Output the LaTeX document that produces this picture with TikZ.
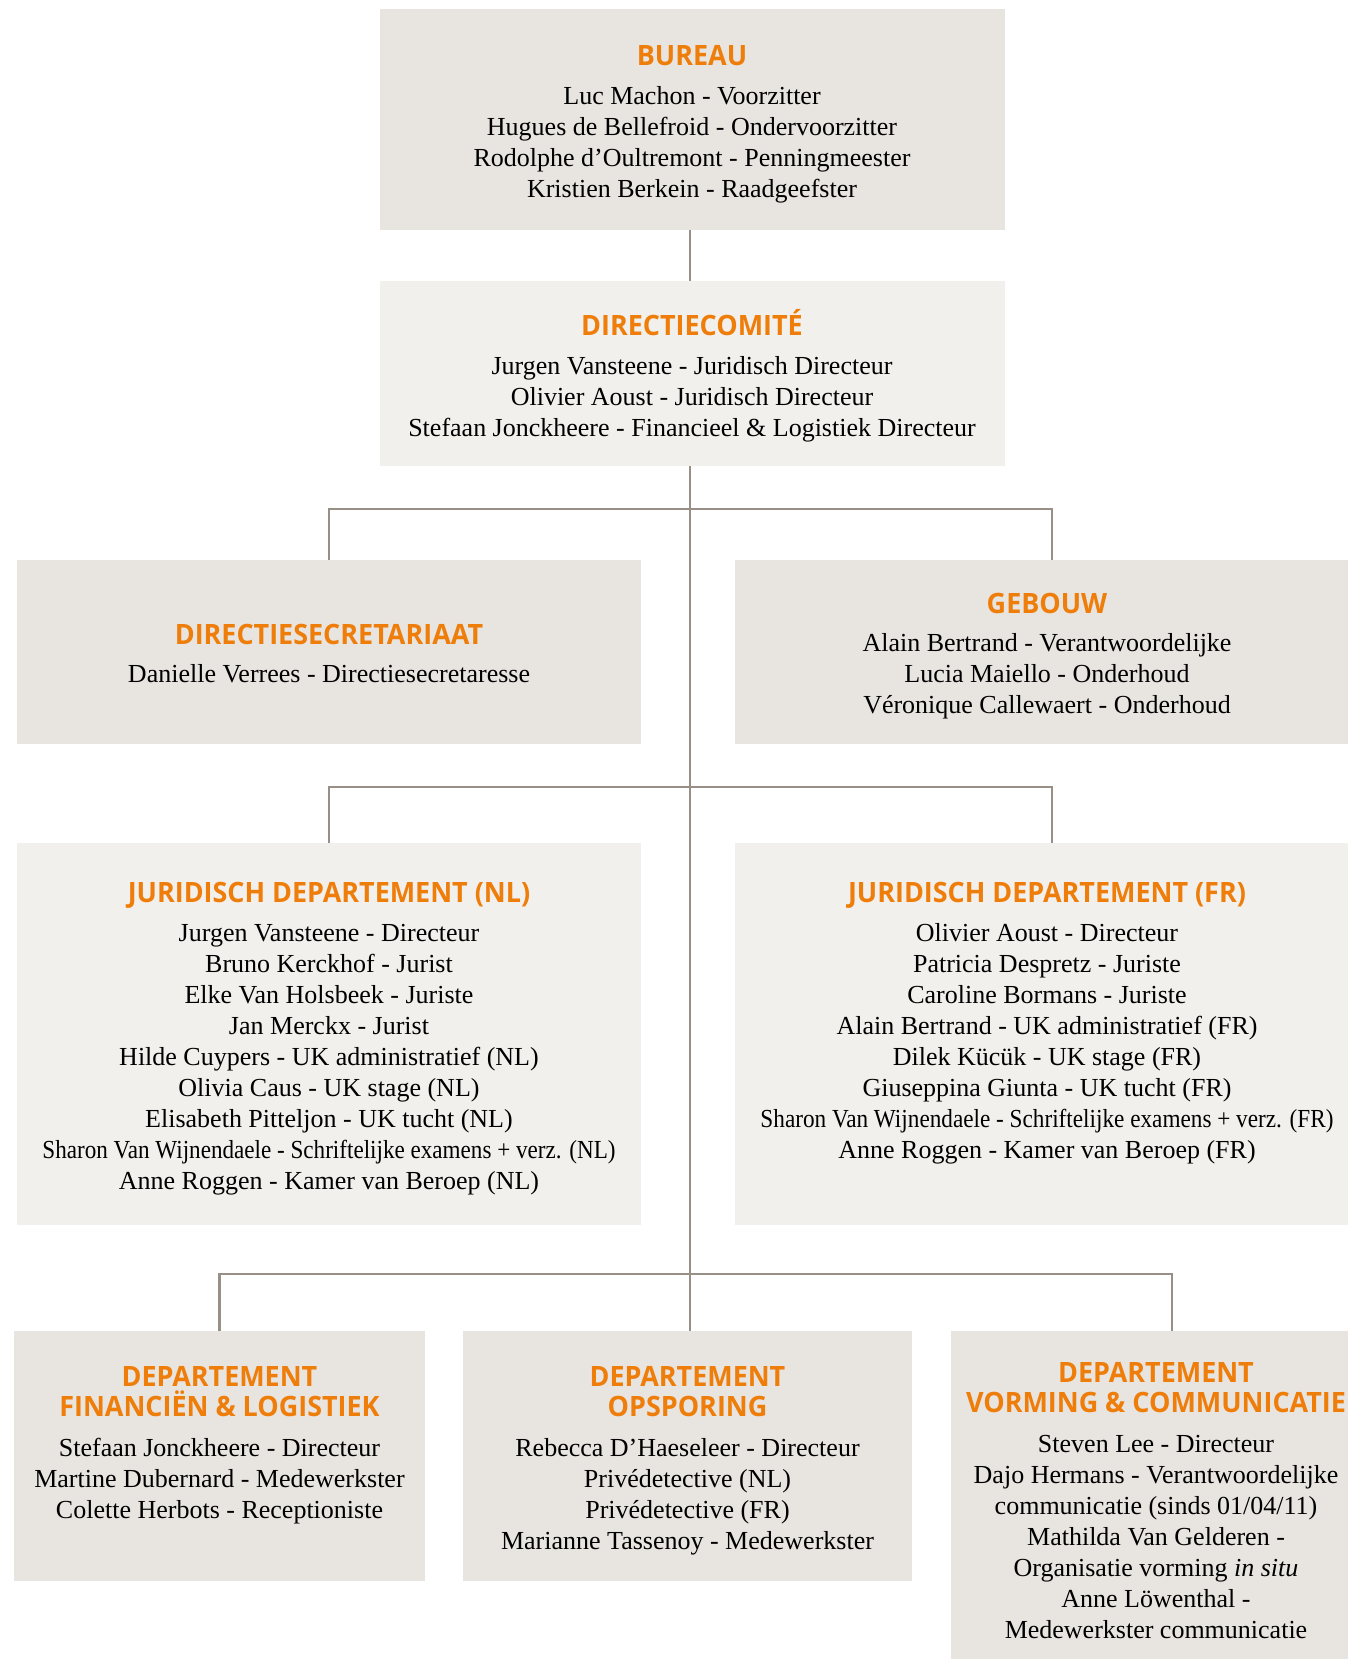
\documentclass[tikz,border=0pt]{standalone}
\usepackage{fontspec}
\usepackage{graphicx}
\setmainfont{Liberation Serif}
\newfontfamily\headf{Open Sans}[FakeStretch=0.962]
\definecolor{orangeh}{RGB}{238,125,10}
\definecolor{boxdark}{RGB}{232,228,224}
\definecolor{boxlight}{RGB}{242,240,237}
\definecolor{linec}{RGB}{152,143,135}
\newcommand\bfnt{\fontsize{26}{31}\selectfont}
\newcommand\hfnt{\headf\bfseries\fontsize{28}{30.7}\selectfont}
\newcommand\cond[1]{\strut\resizebox{573pt}{\height}{#1}}
\newcommand\hl[1]{\strut\smash{#1}}
\tikzset{
  boxd/.style={fill=boxdark, draw=none, inner sep=0pt, outer sep=0pt},
  boxl/.style={fill=boxlight, draw=none, inner sep=0pt, outer sep=0pt},
  head/.style={font=\hfnt, text=orangeh, align=center, inner sep=0pt, anchor=north},
  body/.style={font=\bfnt, text=black, align=center, inner sep=0pt, anchor=north},
  conn/.style={draw=linec, line width=2.5pt}
}
\begin{document}
\begin{tikzpicture}[x=1pt, y=-1pt]
\useasboundingbox (0,0) rectangle (1348,1659);
\clip (0,0) rectangle (1348,1659);
\fill[white] (0,0) rectangle (1348,1659);
% boxes
\node[boxd, minimum width=625pt, minimum height=221pt] (bureau) at (692.5,119.5) {};
\node[boxl, minimum width=625pt, minimum height=185pt] (dircom) at (692.5,373.5) {};
\node[boxd, minimum width=624pt, minimum height=184pt] (secr) at (329,652) {};
\node[boxd, minimum width=624pt, minimum height=184pt] (gebouw) at (1047,652) {};
\node[boxl, minimum width=624pt, minimum height=382pt] (jurnl) at (329,1034) {};
\node[boxl, minimum width=624pt, minimum height=382pt] (jurfr) at (1047,1034) {};
\node[boxd, minimum width=411pt, minimum height=250pt] (fin) at (219.5,1456) {};
\node[boxd, minimum width=449pt, minimum height=250pt] (ops) at (687.5,1456) {};
\node[boxd, minimum width=410pt, minimum height=349pt] (vor) at (1156,1505.5) {};
% connectors
\coordinate (j1) at (690,509);
\coordinate (j2) at (690,787);
\coordinate (j3) at (690,1274);
\draw[conn] ([xshift=-2.5pt]bureau.south) -- ([xshift=-2.5pt]dircom.north);
\draw[conn] ([xshift=-2.5pt]dircom.south) -- ([xshift=-2.5pt]dircom.south |- ops.north);
\draw[conn] (secr.north) |- (j1);
\draw[conn] ([xshift=5pt]gebouw.north) |- (j1);
\draw[conn] (jurnl.north) |- (j2);
\draw[conn] ([xshift=5pt]jurfr.north) |- (j2);
\draw[conn] (fin.north) |- (j3);
\draw[conn] ([xshift=16pt]vor.north) |- (j3);
% texts
\node[head] (bureau-h) at (692,44) {\hl{BUREAU}};
\node[body] (bureau-b) at (692,82.3) {\strut Luc Machon - Voorzitter\\\strut Hugues de Bellefroid - Ondervoorzitter\\\strut Rodolphe d’Oultremont - Penningmeester\\\strut Kristien Berkein - Raadgeefster};
\node[head] (dircom-h) at (692,313.5) {\hl{DIRECTIECOMITÉ}};
\node[body] (dircom-b) at (692,352.3) {\strut Jurgen Vansteene - Juridisch Directeur\\\strut Olivier Aoust - Juridisch Directeur\\\strut Stefaan Jonckheere - Financieel \& Logistiek Directeur};
\node[head] (secr-h) at (329,622.5) {\hl{DIRECTIESECRETARIAAT}};
\node[body] (secr-b) at (329,660.8) {\strut Danielle Verrees - Directiesecretaresse};
\node[head] (gebouw-h) at (1047,591.5) {\hl{GEBOUW}};
\node[body] (gebouw-b) at (1047,629.8) {\strut Alain Bertrand - Verantwoordelijke\\\strut Lucia Maiello - Onderhoud\\\strut Véronique Callewaert - Onderhoud};
\node[head] (jurnl-h) at (329,880.5) {\hl{JURIDISCH DEPARTEMENT (NL)}};
\node[body] (jurnl-b) at (329,919.3) {\strut Jurgen Vansteene - Directeur\\\strut Bruno Kerckhof - Jurist\\\strut Elke Van Holsbeek - Juriste\\\strut Jan Merckx - Jurist\\\strut Hilde Cuypers - UK administratief (NL)\\\strut Olivia Caus - UK stage (NL)\\\strut Elisabeth Pitteljon - UK tucht (NL)\\\cond{Sharon Van Wijnendaele - Schriftelijke examens + verz. (NL)}\\\strut Anne Roggen - Kamer van Beroep (NL)};
\node[head] (jurfr-h) at (1047,880.5) {\hl{JURIDISCH DEPARTEMENT (FR)}};
\node[body] (jurfr-b) at (1047,919.3) {\strut Olivier Aoust - Directeur\\\strut Patricia Despretz - Juriste\\\strut Caroline Bormans - Juriste\\\strut Alain Bertrand - UK administratief (FR)\\\strut Dilek Kücük - UK stage (FR)\\\strut Giuseppina Giunta - UK tucht (FR)\\\cond{Sharon Van Wijnendaele - Schriftelijke examens + verz. (FR)}\\\strut Anne Roggen - Kamer van Beroep (FR)};
\node[head] (fin-h) at (219.5,1364.5) {\hl{DEPARTEMENT}\\\hl{FINANCIËN \& LOGISTIEK}};
\node[body] (fin-b) at (219.5,1434.3) {\strut Stefaan Jonckheere - Directeur\\\strut Martine Dubernard - Medewerkster\\\strut Colette Herbots - Receptioniste};
\node[head] (ops-h) at (687.5,1364.5) {\hl{DEPARTEMENT}\\\hl{OPSPORING}};
\node[body] (ops-b) at (687.5,1434.3) {\strut Rebecca D’Haeseleer - Directeur\\\strut Privédetective (NL)\\\strut Privédetective (FR)\\\strut Marianne Tassenoy - Medewerkster};
\node[head] (vor-h) at (1156,1360.5) {\hl{DEPARTEMENT}\\\hl{VORMING \& COMMUNICATIE}};
\node[body] (vor-b) at (1156,1430.3) {\strut Steven Lee - Directeur\\\strut Dajo Hermans - Verantwoordelijke\\\strut communicatie (sinds 01/04/11)\\\strut Mathilda Van Gelderen -\\\strut Organisatie vorming \textit{in situ}\\\strut Anne Löwenthal -\\\strut Medewerkster communicatie};
\end{tikzpicture}
\end{document}
